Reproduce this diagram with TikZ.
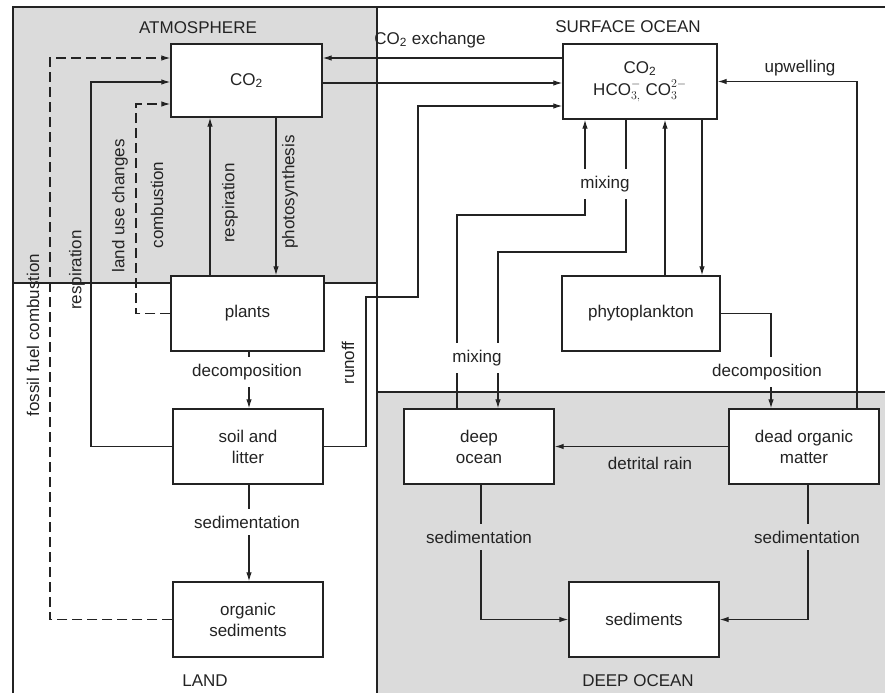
\documentclass[tikz,border=0pt]{standalone}
\usepackage{fontspec}
\setmainfont{Liberation Sans}
\usetikzlibrary{arrows.meta}
\definecolor{bgray}{RGB}{219,219,219}
\definecolor{ink}{RGB}{35,35,35}
\begin{document}
\begin{tikzpicture}[x=1pt,y=-1pt,
  font=\fontsize{17}{21}\selectfont, text=ink,
  box/.style={draw=ink, line width=1.3pt, fill=white, rectangle, inner sep=0pt, minimum width=150pt, minimum height=74pt, align=center},
  conn/.style={draw=ink, line width=1.2pt},
  arr/.style={conn, -{Latex[length=9pt,width=5.5pt]}},
  dsh/.style={dash pattern=on 10pt off 5pt},
  lbl/.style={inner sep=1pt},
  lblw/.style={fill=white, inner xsep=2pt, inner ysep=7pt},
  lblg/.style={fill=bgray, inner xsep=2pt, inner ysep=7pt},
  vlbl/.style={rotate=90, inner sep=1pt},
  region/.style={inner sep=1pt}
]
\useasboundingbox (0,0) rectangle (885,693);
% regions
\fill[bgray] (13,7) rectangle (377,283);
\fill[bgray] (377,392) rectangle (885,693);
\draw[conn] (13,693) -- (13,7) -- (885,7);
\draw[conn] (13,283) -- (377,283);
\draw[conn] (377,7) -- (377,693);
\draw[conn] (377,392) -- (885,392);

\node[region] (atmlab) at (198,28) {ATMOSPHERE};
\node[region] (surflab) at (628,27) {SURFACE OCEAN};
\node[region] (landlab) at (205,681) {LAND};
\node[region] (deeplab) at (638,681) {DEEP OCEAN};

% boxes
\node[box, minimum width=151pt, minimum height=73pt] (co2a) at (246.5,80.5) {CO\textsubscript{2}};
\node[box, minimum width=153pt, minimum height=75pt] (plants) at (247.5,313.5) {plants};
\node[box, minimum height=75pt] (soil) at (248,446.5) {soil and\\litter};
\node[box, minimum height=75pt] (orgsed) at (248,619.5) {organic\\sediments};
\node[box, minimum width=154pt, minimum height=75pt] (so) at (640,81.5) {CO\textsubscript{2}\\[1pt]$\mathrm{HCO}_{3,}^{-}\ \mathrm{CO}_{3}^{2-}$};
\node[box, minimum width=158pt, minimum height=75pt] (phyto) at (641,313.5) {phytoplankton};
\node[box, minimum height=75pt] (deep) at (479,446.5) {deep\\ocean};
\node[box, minimum height=75pt] (dom) at (804,446.5) {dead organic\\matter};
\node[box, minimum height=75pt] (sed) at (644,619.5) {sediments};

% atmosphere/land connectors
\draw[arr, dsh] (orgsed.west) -- (50,619.5) -- (50,58) -- (co2a.west |- 0,58);
\draw[arr] (soil.west) -| (91,82) -- (co2a.west |- 0,82);
\draw[arr, dsh] (plants.west) -| (136,104) -- (co2a.west |- 0,104);
\draw[arr] (plants.north -| 210,0) -- (co2a.south -| 210,0);
\draw[arr] (co2a.south -| 276,0) -- (plants.north -| 276,0);
\draw[arr] (plants.south -| 249,0) -- (soil.north -| 249,0);
\draw[arr] (soil.south -| 249,0) -- (orgsed.north -| 249,0);

% exchange
\draw[arr] (so.west |- 0,58) -- (co2a.east |- 0,58);
\draw[arr] (co2a.east |- 0,83) -- (so.west |- 0,83);
\draw[arr] (soil.east) -| (366,297) -| (418,106) -- (so.west |- 0,106);

% ocean
\draw[arr] (deep.north -| 457,0) |- (585,215) -- (so.south -| 585,0);
\draw[arr] (so.south -| 626,0) |- (498,252) -- (deep.north -| 498,0);
\draw[arr] (phyto.north -| 665,0) -- (so.south -| 665,0);
\draw[arr] (so.south -| 702,0) -- (phyto.north -| 702,0);
\draw[arr] (phyto.east) -| (dom.north -| 771,0);
\draw[arr] (dom.north -| 857,0) |- (so.east);
\draw[arr] (dom.west) -- (deep.east);
\draw[arr] (deep.south -| 481,0) |- (sed.west);
\draw[arr] (dom.south -| 808,0) |- (sed.east);

% labels
\node[lbl] (lexch) at (430,40) {CO\textsubscript{2} exchange};
\node[lbl] (lupw) at (800,68) {upwelling};
\node[vlbl] (lfossil) at (33,335) {fossil fuel combustion};
\node[vlbl] (lresp1) at (77,270) {respiration};
\node[vlbl] (lland) at (120,206) {land use changes};
\node[vlbl] (lcomb) at (157,205) {combustion};
\node[vlbl] (lresp2) at (230,203) {respiration};
\node[vlbl] (lphoto) at (290,192) {photosynthesis};
\node[vlbl] (lrunoff) at (348,363) {runoff};
\node[lblw] (lmix1) at (605,184) {mixing};
\node[lblw] (lmix2) at (477,358) {mixing};
\node[lblw] (ldec1) at (247,372) {decomposition};
\node[lblw] (ldec2) at (767,372) {decomposition};
\node[lblw] (lsed1) at (247,522) {sedimentation};
\node[lblg] (lsed2) at (479,537) {sedimentation};
\node[lblg] (lsed3) at (807,537) {sedimentation};
\node[lbl] (ldet) at (650,463) {detrital rain};
\end{tikzpicture}
\end{document}
